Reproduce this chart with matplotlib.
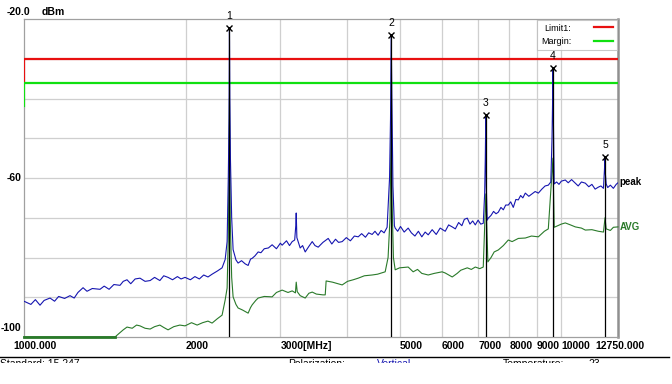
import numpy as np
import matplotlib.pyplot as plt
from matplotlib.patches import Rectangle

plt.rcParams['font.family'] = ['Liberation Sans', 'DejaVu Sans']

# peak trace (MHz, dBm)
PEAK_F = [1000, 1030, 1050, 1071, 1090, 1118, 1140, 1160, 1190, 1218, 1240, 1260,
          1288, 1310, 1340, 1385, 1410, 1440, 1470, 1509, 1530, 1555, 1580, 1610,
          1644, 1680, 1717, 1750, 1790, 1820, 1854, 1890, 1930, 1960, 1994, 2040,
          2080, 2120, 2160, 2200, 2239, 2290, 2337, 2368, 2388, 2400, 2408, 2412,
          2416, 2422, 2435, 2450, 2480, 2503, 2540, 2580, 2613, 2640, 2659, 2690,
          2728, 2760, 2800, 2850, 2896, 2950, 3000, 3023, 3080, 3120, 3156, 3190,
          3205, 3211, 3220, 3266, 3300, 3337, 3390, 3439, 3480, 3528, 3600, 3683,
          3740, 3800, 3850, 3910, 3980, 4050, 4120, 4188, 4250, 4320, 4380, 4446,
          4500, 4560, 4620, 4680, 4740, 4790, 4810, 4824, 4838, 4860, 4890, 4907,
          4960, 5020, 5100, 5188, 5260, 5340, 5420, 5500, 5580, 5653, 5750, 5850,
          5950, 6081, 6170, 6266, 6350, 6440, 6530, 6600, 6683, 6760, 6840, 6917,
          7000, 7080, 7157, 7200, 7220, 7236, 7250, 7280, 7313, 7400, 7480, 7560,
          7634, 7720, 7800, 7880, 7968, 8050, 8140, 8230, 8318, 8400, 8480, 8570,
          8700, 8820, 8940, 9063, 9200, 9330, 9458, 9560, 9610, 9635, 9648, 9665,
          9700, 9800, 9900, 10000, 10172, 10300, 10450, 10619, 10750, 10900, 11084,
          11250, 11400, 11560, 11720, 11850, 11980, 12030, 12060, 12080, 12120,
          12200, 12339, 12500, 12650, 12750]
PEAK_V = [-91.0, -91.8, -90.6, -92.0, -90.8, -90.2, -91.0, -89.8, -90.3, -89.6, -90.2, -88.8,
          -87.6, -88.5, -87.8, -88.0, -87.2, -88.0, -86.8, -87.0, -86.0, -85.6, -86.6, -85.4,
          -85.2, -86.0, -85.8, -85.0, -85.8, -84.6, -85.0, -85.6, -84.8, -85.4, -85.0, -85.6,
          -84.8, -85.4, -84.4, -84.9, -84.2, -83.4, -82.6, -80.5, -76.0, -60.0, -45.0, -22.3,
          -40.0, -55.0, -70.0, -78.0, -80.6, -81.4, -80.8, -81.6, -82.0, -80.4, -80.2, -79.6,
          -78.6, -78.8, -77.8, -77.6, -76.8, -77.8, -76.4, -76.9, -75.8, -77.0, -76.0, -75.6,
          -72.0, -68.8, -75.0, -77.6, -77.0, -78.6, -77.2, -76.0, -77.0, -77.4, -76.2, -75.2,
          -76.6, -75.4, -76.2, -76.0, -75.0, -75.8, -74.6, -74.8, -74.0, -74.9, -73.8, -74.2,
          -73.4, -74.4, -73.2, -73.8, -72.4, -60.0, -45.0, -24.0, -40.0, -62.0, -72.0, -72.6,
          -73.4, -72.2, -73.6, -72.6, -73.8, -74.6, -73.4, -74.8, -73.6, -74.3, -73.0, -74.2,
          -72.6, -73.4, -71.8, -72.3, -72.8, -71.2, -72.0, -70.4, -70.1, -71.6, -70.8, -71.8,
          -70.6, -71.6, -71.4, -64.0, -55.0, -44.2, -62.0, -70.6, -70.1, -69.4, -68.4, -69.0,
          -68.6, -67.4, -68.0, -66.8, -66.8, -66.0, -67.4, -65.4, -65.5, -64.4, -65.0, -63.8,
          -64.6, -64.0, -63.4, -63.8, -62.8, -62.0, -61.8, -61.0, -50.0, -40.0, -32.3, -45.0,
          -61.5, -61.0, -61.6, -60.8, -60.5, -61.2, -60.4, -61.3, -62.0, -61.0, -61.3,
          -62.2, -61.6, -62.8, -62.3, -62.0, -62.6, -58.0, -54.7, -59.0, -61.5,
          -62.4, -61.8, -62.6, -61.6, -61.2]

# average trace (MHz, dBm)
AVG_F = [1000, 1477, 1500, 1530, 1555, 1590, 1620, 1644, 1680, 1717, 1750, 1790,
         1820, 1854, 1900, 1950, 1994, 2050, 2100, 2150, 2200, 2239, 2290, 2337,
         2368, 2388, 2400, 2412, 2420, 2435, 2450, 2480, 2503, 2550, 2613, 2640,
         2659, 2700, 2728, 2800, 2896, 2950, 3023, 3100, 3156, 3200, 3211, 3225,
         3266, 3337, 3390, 3439, 3500, 3600, 3636, 3650, 3750, 3910, 4000, 4100,
         4188, 4300, 4446, 4550, 4701, 4760, 4800, 4824, 4840, 4870, 4907, 5000,
         5188, 5300, 5400, 5500, 5653, 5800, 6000, 6081, 6266, 6400, 6500, 6683,
         6800, 6917, 7050, 7157, 7236, 7300, 7400, 7500, 7634, 7800, 7968, 8100,
         8318, 8570, 8800, 9063, 9300, 9458, 9648, 9700, 10000, 10172, 10400,
         10619, 10900, 11084, 11400, 11720, 11980, 12060, 12120, 12339, 12500, 12750]
AVG_V = [-100.0, -100.0, -99.2, -98.2, -97.5, -97.8, -97.0, -97.2, -97.8, -98.0, -97.4, -97.0,
         -97.6, -98.2, -97.4, -97.0, -97.2, -96.4, -97.0, -96.4, -96.0, -96.5, -95.4, -94.5,
         -90.7, -87.7, -75.0, -40.0, -70.0, -85.0, -89.9, -91.8, -92.7, -93.2, -94.0, -92.6,
         -91.9, -90.8, -90.2, -89.8, -89.9, -88.8, -88.2, -88.8, -88.4, -88.9, -86.2, -88.6,
         -89.6, -90.2, -89.0, -88.7, -89.2, -89.4, -89.4, -85.9, -86.2, -86.9, -86.0, -85.6,
         -85.2, -84.6, -84.4, -84.2, -83.6, -80.0, -70.0, -45.0, -65.0, -80.0, -83.1, -82.6,
         -82.4, -83.6, -83.0, -84.0, -84.4, -84.0, -83.6, -83.9, -84.9, -84.0, -83.2, -82.6,
         -83.0, -82.4, -82.8, -82.4, -64.0, -81.1, -80.0, -78.6, -78.1, -77.0, -75.6, -76.0,
         -75.2, -75.1, -74.6, -74.8, -73.4, -72.8, -55.0, -72.4, -71.6, -71.3, -71.8,
         -72.3, -72.6, -73.1, -73.0, -73.4, -73.6, -70.0, -72.8, -73.2, -72.4, -72.3]

LIMIT_F = [1000, 1000, 12750]
LIMIT_V = [-36.0, -30.0, -30.0]
MARGIN_F = [1000, 1000, 12750]
MARGIN_V = [-42.0, -36.0, -36.0]

MARK_F = [2412, 4824, 7236, 9648, 12060]
MARK_V = [-22.3, -24.0, -44.2, -32.3, -54.7]

XTICKS = [1000, 2000, 3000, 5000, 6000, 7000, 8000, 9000, 10000, 12750]
XLABELS = ['1000.000', '2000', '3000[MHz]', '5000', '6000', '7000', '8000', '9000',
           '10000', '12750.000']

fig = plt.figure(figsize=(6.72, 3.84), dpi=100)
ax = fig.add_axes([24 / 672, 1 - 337 / 384, 594 / 672, 318 / 384])
ax.set_xscale('log')
ax.set_xlim(1000, 12750)
ax.set_ylim(-100, -20)

# grid
for f in [2000, 3000, 4000, 5000, 6000, 7000, 8000, 9000, 10000]:
    ax.axvline(f, color='#cfcfcf', lw=0.9, zorder=0)
for v in np.arange(-90, -20, 10):
    ax.axhline(v, color='#cfcfcf', lw=0.9, zorder=0)

ax.plot(LIMIT_F, LIMIT_V, color='#e81010', lw=1.6, label='Limit1:', zorder=3)
ax.plot(MARGIN_F, MARGIN_V, color='#10e010', lw=1.6, label='Margin:', zorder=3)

ax.plot(AVG_F, AVG_V, color='#2a7a2a', lw=0.8, zorder=4, clip_on=False)
ax.plot(PEAK_F, PEAK_V, color='#1515b0', lw=0.8, zorder=5)
ax.plot([1000, 1477], [-100, -100], color='#2a7a2a', lw=2.0, zorder=4, clip_on=False)

# markers
for i, (f, v) in enumerate(zip(MARK_F, MARK_V)):
    ax.plot([f, f], [-100, v], color='black', lw=0.9, zorder=6)
    ax.plot(f, v, marker='x', color='black', ms=5, mew=1.0, zorder=7, clip_on=False)
    ax.annotate(str(i + 1), (f, v), xytext=(0, 5), textcoords='offset points',
                ha='center', va='bottom', fontsize=7.5, annotation_clip=False)

ax.text(1.003, -61.0, 'peak', transform=ax.get_yaxis_transform(), fontsize=7,
        fontweight='bold', va='center', ha='left', color='black')
ax.text(1.003, -72.3, 'AVG', transform=ax.get_yaxis_transform(), fontsize=7,
        fontweight='bold', va='center', ha='left', color='#2a7a2a')

leg = ax.legend(loc='upper right', markerfirst=False, fontsize=6.5, frameon=True,
                fancybox=False, borderaxespad=0.1, handlelength=2.2,
                labelspacing=0.5, borderpad=0.4, handletextpad=2.5)
leg.get_frame().set_edgecolor('#bbbbbb')
leg.get_frame().set_linewidth(0.8)

# axes
ax.set_yticks([])
ax.set_xticks([])
ax.xaxis.set_minor_locator(plt.NullLocator())
xlab_tr = ax.get_xaxis_transform()
for f, s in zip(XTICKS, XLABELS):
    ha = 'left'
    xpos = f
    if s == '1000.000':
        ha = 'center'
        xpos = 1050
    if s == '12750.000':
        xpos = 11550
    ax.text(xpos, -0.012, s, transform=xlab_tr, ha=ha, va='top', fontsize=7.5,
            fontweight='bold')
for side in ['top', 'left', 'bottom']:
    ax.spines[side].set_color('#a0a0a0')
    ax.spines[side].set_linewidth(0.9)
ax.spines['right'].set_color('#909090')
ax.spines['right'].set_linewidth(1.8)

fig.text(7 / 672, 1 - 12 / 384, '-20.0', fontsize=7.5, fontweight='bold', va='center')
fig.text(42 / 672, 1 - 12 / 384, 'dBm', fontsize=7.5, fontweight='bold', va='center')
ax.text(-0.005, -60, '-60', transform=ax.get_yaxis_transform(), ha='right',
        va='center', fontsize=7.5, fontweight='bold')
ax.text(-0.005, -99.0, '-100', transform=ax.get_yaxis_transform(), ha='right',
        va='bottom', fontsize=7.5, fontweight='bold')

# footer line and info row, cut off below like the screenshot
fig.add_artist(plt.Line2D([0, 669 / 672], [1 - 357 / 384] * 2, color='black', lw=1.0))
for x, s, c in [(0, 'Standard: 15.247', 'black'), (288, 'Polarization:', 'black'),
                (377, 'Vertical', '#1515b0'), (503, 'Temperature:', 'black'),
                (588, '23', 'black')]:
    fig.text(x / 672, 1 - 359 / 384, s, fontsize=7.5, color=c, va='top', zorder=3)
fig.add_artist(Rectangle((0, 0), 1, 1 - 362.5 / 384, transform=fig.transFigure,
                         facecolor='white', edgecolor='none', zorder=10))

fig.savefig('out.png', dpi=100)
